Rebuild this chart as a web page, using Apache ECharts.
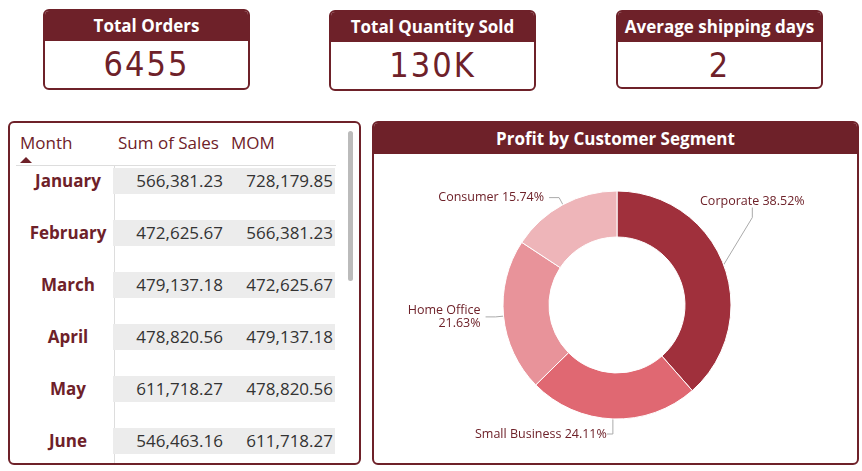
<!DOCTYPE html>
<html><head><meta charset="utf-8">
<script src="https://cdn.jsdelivr.net/npm/echarts@6/dist/echarts.min.js"></script>
<style>
body{margin:0;width:862px;height:471px;background:#fff;font-family:"Open Sans","Noto Sans",sans-serif;position:relative;overflow:hidden}
.card{position:absolute;border:2px solid #6e2129;border-radius:6px;box-sizing:border-box;overflow:hidden;background:#fff}
.card .h{background:#6e2129;color:#fff;font-weight:bold;text-align:center;font-size:17px;height:30px;line-height:30px}
.card .v{color:#6e2129;text-align:center;font-size:34px;line-height:46px;letter-spacing:2px;font-family:"DejaVu Sans Condensed","DejaVu Sans",sans-serif}
.panel{position:absolute;border:2px solid #6e2129;border-radius:6px;box-sizing:border-box;overflow:hidden;background:#fff}
.th{position:absolute;color:#6e2129;font-size:17px;top:8px}
.row{position:absolute;left:0;width:340px;height:26px}
.row .m{position:absolute;left:8px;width:100px;text-align:center;color:#6e2129;font-weight:bold;font-size:17px;line-height:26px}
.row .c{position:absolute;left:103px;width:222px;height:26px;background:#ececec}
.row .a,.row .b{position:absolute;text-align:right;font-size:17px;color:#333;line-height:26px}
</style></head><body>
<div class="card" style="left:43px;top:9px;width:207px;height:81px"><div class="h">Total Orders</div><div class="v" id="k1"></div></div>
<div class="card" style="left:329px;top:10px;width:207px;height:81px"><div class="h">Total Quantity Sold</div><div class="v" id="k2"></div></div>
<div class="card" style="left:616px;top:10px;width:207px;height:79px"><div class="h">Average shipping days</div><div class="v" id="k3"></div></div>
<div class="panel" id="tbl" style="left:8px;top:121px;width:353px;height:344px">
 <div class="th" style="left:10px">Month</div>
 <div class="th" style="left:108px">Sum of Sales</div>
 <div class="th" style="left:221px">MOM</div>
 <div style="position:absolute;left:10px;top:34px;width:0;height:0;border-left:6px solid transparent;border-right:6px solid transparent;border-bottom:6px solid #6e2129"></div>
 <div style="position:absolute;left:6px;top:42px;width:320px;height:1px;background:#ddd"></div>
 <div style="position:absolute;left:104px;top:43px;width:1px;height:300px;background:#ddd"></div>
 <div style="position:absolute;left:338px;top:8px;width:5px;height:150px;background:#bbb;border-radius:3px"></div>
</div>
<div class="panel" style="left:372px;top:121px;width:487px;height:344px">
 <div style="background:#6e2129;color:#fff;font-weight:bold;text-align:center;font-size:17px;height:31px;line-height:31px">Profit by Customer Segment</div>
 <div id="pie" style="position:absolute;left:0;top:31px;width:483px;height:309px"></div>
</div>
<script>
const kpiTitles=["Total Orders","Total Quantity Sold","Average shipping days"];
const kpiValues=["6455","130K","2"];
const months=["January","February","March","April","May","June"];
const sales=["566,381.23","472,625.67","479,137.18","478,820.56","611,718.27","546,463.16"];
const mom=["728,179.85","566,381.23","472,625.67","479,137.18","478,820.56","611,718.27"];
const segments=["Corporate","Small Business","Home Office","Consumer"];
const segShare=[38.52,24.11,21.63,15.74];
const segColors=["#a0303c","#e06872","#e8939a","#eeb5b9"];
["k1","k2","k3"].forEach((id,i)=>document.getElementById(id).textContent=kpiValues[i]);
const tbl=document.getElementById('tbl');
months.forEach((m,i)=>{
 const r=document.createElement('div');r.className='row';r.style.top=(45+i*52)+'px';
 r.innerHTML='<div class="m">'+m+'</div><div class="c"></div><div class="a" style="left:100px;width:113px">'+sales[i]+'</div><div class="b" style="left:215px;width:108px">'+mom[i]+'</div>';
 tbl.appendChild(r);
});
const ch=echarts.init(document.getElementById('pie'));
ch.setOption({animation:false,series:[{type:'pie',center:[243,151],radius:[68,114],startAngle:90,clockwise:true,
 label:{color:'#6e2129',fontSize:12.5,fontFamily:'Open Sans',overflow:'none',formatter:p=>p.name==='Home Office'?'Home Office\n{r|'+p.value.toFixed(2)+'%}':p.name+' '+p.value.toFixed(2)+'%',rich:{r:{align:'right',color:'#6e2129',fontSize:12.5}}},
 labelLine:{length:8,length2:10,lineStyle:{color:'#aaa'}},
 labelLayout:p=>{
  if(p.dataIndex===0)return {x:326,y:47,align:'left',verticalAlign:'middle',width:140};
  if(p.dataIndex===1)return {x:101,y:280,align:'left',verticalAlign:'middle',width:140};
  return {};
 },
 itemStyle:{borderColor:'#fff',borderWidth:1},
 data:segments.map((s,i)=>({name:s,value:segShare[i],itemStyle:{color:segColors[i]}}))}]});
</script>
</body></html>
